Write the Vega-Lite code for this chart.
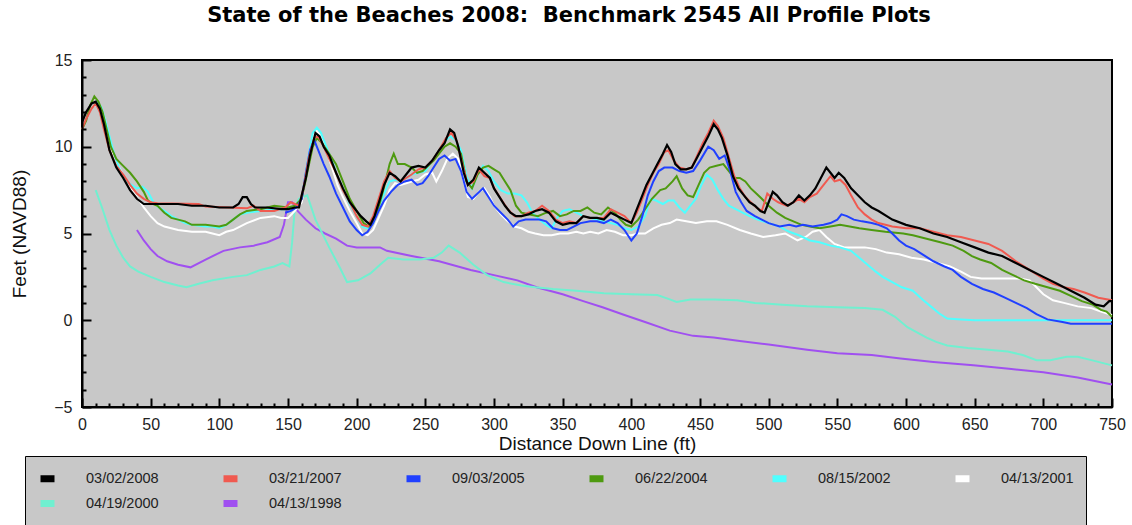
{
"$schema": "https://vega.github.io/schema/vega-lite/v6.json",
"width": 1030, "height": 347,
"autosize": {"type": "none"},
"padding": {"left": 82, "top": 60, "right": 20, "bottom": 118},
"background": "white",
"config": {"view": {"fill": "#c8c8c8", "stroke": "#000", "strokeWidth": 2}, "font": "Liberation Sans"},
"title": {"text": "State of the Beaches 2008: \u00a0Benchmark 2545 All Profile Plots", "fontSize": 21, "fontWeight": "bold", "font": "DejaVu Sans", "color": "#000", "offset": 26, "dx": -28, "anchor": "middle"},
"datasets": {
"p": [{"x":40,"y":5.2},{"x":45,"y":4.6},{"x":50,"y":4.1},{"x":55,"y":3.7},{"x":62,"y":3.4},{"x":70,"y":3.2},{"x":79,"y":3.05},{"x":90,"y":3.5},{"x":103,"y":4.0},{"x":115,"y":4.2},{"x":125,"y":4.3},{"x":135,"y":4.5},{"x":144,"y":4.8},{"x":147,"y":5.5},{"x":150,"y":6.8},{"x":153,"y":6.8},{"x":157,"y":6.3},{"x":163,"y":5.8},{"x":170,"y":5.3},{"x":177,"y":5.0},{"x":185,"y":4.7},{"x":193,"y":4.3},{"x":200,"y":4.2},{"x":217,"y":4.2},{"x":222,"y":4.0},{"x":240,"y":3.7},{"x":260,"y":3.4},{"x":283,"y":2.9},{"x":300,"y":2.6},{"x":317,"y":2.3},{"x":331,"y":1.9},{"x":350,"y":1.5},{"x":365,"y":1.1},{"x":379,"y":0.75},{"x":395,"y":0.3},{"x":410,"y":-0.1},{"x":428,"y":-0.6},{"x":445,"y":-0.9},{"x":460,"y":-1.0},{"x":479,"y":-1.2},{"x":500,"y":-1.4},{"x":528,"y":-1.7},{"x":550,"y":-1.9},{"x":575,"y":-2.0},{"x":596,"y":-2.2},{"x":620,"y":-2.4},{"x":649,"y":-2.6},{"x":675,"y":-2.8},{"x":700,"y":-3.0},{"x":725,"y":-3.3},{"x":750,"y":-3.7}],
"a": [{"x":10,"y":7.5},{"x":15,"y":6.4},{"x":20,"y":5.2},{"x":25,"y":4.3},{"x":30,"y":3.6},{"x":35,"y":3.1},{"x":41,"y":2.8},{"x":50,"y":2.5},{"x":60,"y":2.2},{"x":70,"y":2.0},{"x":76,"y":1.9},{"x":85,"y":2.1},{"x":95,"y":2.3},{"x":110,"y":2.5},{"x":120,"y":2.6},{"x":130,"y":2.9},{"x":140,"y":3.1},{"x":146,"y":3.3},{"x":151,"y":3.1},{"x":153,"y":4.5},{"x":155,"y":6.5},{"x":158,"y":7.0},{"x":164,"y":7.2},{"x":170,"y":5.8},{"x":180,"y":4.2},{"x":188,"y":3.0},{"x":193,"y":2.2},{"x":201,"y":2.3},{"x":210,"y":2.7},{"x":217,"y":3.2},{"x":223,"y":3.6},{"x":234,"y":3.5},{"x":246,"y":3.5},{"x":256,"y":3.6},{"x":262,"y":3.9},{"x":267,"y":4.3},{"x":275,"y":3.9},{"x":285,"y":3.2},{"x":295,"y":2.6},{"x":307,"y":2.2},{"x":320,"y":2.0},{"x":330,"y":1.9},{"x":343,"y":1.8},{"x":360,"y":1.7},{"x":380,"y":1.55},{"x":400,"y":1.5},{"x":419,"y":1.45},{"x":428,"y":1.2},{"x":433,"y":1.05},{"x":443,"y":1.2},{"x":460,"y":1.2},{"x":477,"y":1.15},{"x":490,"y":1.0},{"x":510,"y":0.9},{"x":528,"y":0.8},{"x":550,"y":0.75},{"x":570,"y":0.7},{"x":583,"y":0.6},{"x":592,"y":0.2},{"x":601,"y":-0.4},{"x":608,"y":-0.7},{"x":615,"y":-1.0},{"x":622,"y":-1.25},{"x":630,"y":-1.45},{"x":645,"y":-1.6},{"x":660,"y":-1.7},{"x":674,"y":-1.8},{"x":685,"y":-2.0},{"x":695,"y":-2.3},{"x":705,"y":-2.3},{"x":717,"y":-2.1},{"x":725,"y":-2.1},{"x":735,"y":-2.3},{"x":750,"y":-2.6}],
"w": [{"x":8,"y":12.3},{"x":11,"y":12.5},{"x":14,"y":12.2},{"x":17,"y":11.5},{"x":20,"y":10.4},{"x":23,"y":9.4},{"x":27,"y":8.8},{"x":31,"y":8.2},{"x":35,"y":7.6},{"x":40,"y":7.1},{"x":45,"y":6.5},{"x":50,"y":6.0},{"x":55,"y":5.6},{"x":60,"y":5.4},{"x":70,"y":5.2},{"x":80,"y":5.1},{"x":90,"y":5.1},{"x":95,"y":5.0},{"x":100,"y":4.9},{"x":105,"y":5.1},{"x":110,"y":5.2},{"x":115,"y":5.4},{"x":120,"y":5.6},{"x":130,"y":5.9},{"x":140,"y":6.0},{"x":145,"y":5.9},{"x":150,"y":5.9},{"x":155,"y":6.3},{"x":160,"y":6.8},{"x":164,"y":8.8},{"x":168,"y":10.6},{"x":171,"y":10.9},{"x":174,"y":10.6},{"x":178,"y":9.8},{"x":182,"y":8.8},{"x":186,"y":7.8},{"x":190,"y":7.1},{"x":195,"y":6.3},{"x":200,"y":5.6},{"x":204,"y":5.0},{"x":208,"y":4.9},{"x":212,"y":5.2},{"x":216,"y":5.9},{"x":220,"y":6.6},{"x":224,"y":7.5},{"x":228,"y":7.9},{"x":232,"y":7.8},{"x":236,"y":7.9},{"x":240,"y":8.0},{"x":245,"y":8.1},{"x":250,"y":8.4},{"x":255,"y":8.5},{"x":258,"y":8.0},{"x":262,"y":8.6},{"x":266,"y":9.3},{"x":270,"y":9.6},{"x":274,"y":9.3},{"x":278,"y":8.0},{"x":281,"y":7.1},{"x":285,"y":7.0},{"x":289,"y":7.4},{"x":293,"y":7.6},{"x":297,"y":7.1},{"x":300,"y":6.6},{"x":305,"y":6.1},{"x":310,"y":5.7},{"x":315,"y":5.4},{"x":320,"y":5.3},{"x":325,"y":5.1},{"x":330,"y":5.0},{"x":336,"y":4.9},{"x":342,"y":4.9},{"x":348,"y":5.0},{"x":354,"y":5.0},{"x":360,"y":5.1},{"x":365,"y":5.0},{"x":370,"y":5.1},{"x":376,"y":5.0},{"x":382,"y":5.2},{"x":388,"y":5.1},{"x":394,"y":4.9},{"x":400,"y":4.9},{"x":405,"y":5.0},{"x":410,"y":5.0},{"x":416,"y":5.3},{"x":422,"y":5.5},{"x":428,"y":5.6},{"x":433,"y":5.8},{"x":440,"y":5.7},{"x":447,"y":5.6},{"x":455,"y":5.7},{"x":462,"y":5.7},{"x":470,"y":5.5},{"x":479,"y":5.2},{"x":487,"y":5.0},{"x":496,"y":4.8},{"x":505,"y":4.9},{"x":512,"y":5.0},{"x":521,"y":4.6},{"x":527,"y":4.8},{"x":532,"y":5.1},{"x":537,"y":5.2},{"x":542,"y":4.8},{"x":548,"y":4.4},{"x":555,"y":4.2},{"x":562,"y":4.2},{"x":570,"y":4.2},{"x":578,"y":4.1},{"x":586,"y":3.9},{"x":595,"y":3.8},{"x":604,"y":3.6},{"x":613,"y":3.5},{"x":623,"y":3.3},{"x":632,"y":3.1},{"x":640,"y":2.8},{"x":647,"y":2.5},{"x":655,"y":2.4},{"x":665,"y":2.4},{"x":675,"y":2.4},{"x":683,"y":2.4},{"x":690,"y":2.3},{"x":695,"y":1.9},{"x":700,"y":1.5},{"x":707,"y":1.15},{"x":715,"y":1.0},{"x":725,"y":0.8},{"x":735,"y":0.7},{"x":742,"y":0.5},{"x":750,"y":0.3}],
"c": [{"x":8,"y":12.5},{"x":11,"y":12.6},{"x":14,"y":12.3},{"x":17,"y":11.5},{"x":20,"y":10.6},{"x":24,"y":9.4},{"x":28,"y":8.6},{"x":32,"y":8.0},{"x":36,"y":7.8},{"x":40,"y":7.6},{"x":44,"y":7.7},{"x":48,"y":7.4},{"x":52,"y":6.8},{"x":56,"y":6.5},{"x":60,"y":6.3},{"x":65,"y":6.0},{"x":70,"y":5.8},{"x":75,"y":5.6},{"x":80,"y":5.5},{"x":90,"y":5.4},{"x":95,"y":5.4},{"x":100,"y":5.3},{"x":105,"y":5.5},{"x":110,"y":5.8},{"x":115,"y":6.1},{"x":120,"y":6.2},{"x":130,"y":6.3},{"x":140,"y":6.4},{"x":150,"y":6.4},{"x":155,"y":6.5},{"x":160,"y":7.0},{"x":164,"y":9.0},{"x":168,"y":10.8},{"x":171,"y":11.1},{"x":174,"y":10.8},{"x":178,"y":10.0},{"x":182,"y":9.2},{"x":186,"y":8.3},{"x":190,"y":7.6},{"x":195,"y":6.7},{"x":200,"y":6.0},{"x":204,"y":5.4},{"x":208,"y":5.3},{"x":212,"y":5.6},{"x":216,"y":6.5},{"x":220,"y":7.3},{"x":224,"y":8.0},{"x":228,"y":8.1},{"x":232,"y":8.0},{"x":236,"y":8.2},{"x":240,"y":8.4},{"x":245,"y":8.5},{"x":250,"y":8.6},{"x":255,"y":9.2},{"x":260,"y":9.8},{"x":264,"y":10.3},{"x":268,"y":10.6},{"x":272,"y":10.4},{"x":276,"y":9.8},{"x":280,"y":8.3},{"x":284,"y":7.6},{"x":288,"y":8.4},{"x":292,"y":8.9},{"x":296,"y":8.6},{"x":300,"y":8.0},{"x":305,"y":7.5},{"x":310,"y":7.3},{"x":315,"y":7.3},{"x":320,"y":7.2},{"x":324,"y":6.8},{"x":328,"y":6.2},{"x":333,"y":5.8},{"x":338,"y":5.5},{"x":342,"y":5.3},{"x":346,"y":5.9},{"x":350,"y":6.3},{"x":355,"y":6.4},{"x":360,"y":6.2},{"x":365,"y":6.0},{"x":370,"y":5.9},{"x":375,"y":5.8},{"x":380,"y":5.7},{"x":385,"y":5.6},{"x":390,"y":5.5},{"x":395,"y":5.3},{"x":400,"y":5.2},{"x":405,"y":5.4},{"x":410,"y":6.0},{"x":414,"y":7.0},{"x":418,"y":6.9},{"x":423,"y":6.7},{"x":427,"y":6.9},{"x":431,"y":6.9},{"x":435,"y":6.5},{"x":439,"y":6.2},{"x":443,"y":6.6},{"x":447,"y":7.0},{"x":451,"y":7.8},{"x":455,"y":8.4},{"x":459,"y":8.1},{"x":463,"y":7.5},{"x":467,"y":7.0},{"x":471,"y":6.6},{"x":476,"y":6.4},{"x":481,"y":6.2},{"x":486,"y":6.0},{"x":492,"y":5.8},{"x":500,"y":5.6},{"x":508,"y":5.4},{"x":515,"y":5.1},{"x":522,"y":4.9},{"x":530,"y":4.6},{"x":537,"y":4.5},{"x":545,"y":4.3},{"x":552,"y":4.2},{"x":560,"y":4.0},{"x":566,"y":3.6},{"x":572,"y":3.2},{"x":578,"y":2.8},{"x":583,"y":2.5},{"x":590,"y":2.2},{"x":597,"y":1.9},{"x":605,"y":1.7},{"x":612,"y":1.2},{"x":618,"y":0.8},{"x":624,"y":0.4},{"x":630,"y":0.1},{"x":640,"y":0.05},{"x":650,"y":0.0},{"x":750,"y":0.0}],
"g": [{"x":0,"y":11.0},{"x":3,"y":11.5},{"x":6,"y":12.4},{"x":9,"y":12.9},{"x":12,"y":12.6},{"x":15,"y":12.0},{"x":18,"y":11.0},{"x":21,"y":10.0},{"x":25,"y":9.3},{"x":30,"y":8.9},{"x":35,"y":8.5},{"x":40,"y":8.0},{"x":45,"y":7.4},{"x":48,"y":6.9},{"x":52,"y":6.7},{"x":55,"y":6.6},{"x":60,"y":6.2},{"x":65,"y":5.9},{"x":70,"y":5.8},{"x":75,"y":5.7},{"x":80,"y":5.5},{"x":90,"y":5.5},{"x":100,"y":5.4},{"x":105,"y":5.5},{"x":110,"y":5.8},{"x":115,"y":6.1},{"x":120,"y":6.3},{"x":130,"y":6.4},{"x":140,"y":6.6},{"x":150,"y":6.5},{"x":155,"y":6.6},{"x":160,"y":7.0},{"x":164,"y":8.5},{"x":168,"y":10.0},{"x":171,"y":10.5},{"x":175,"y":10.2},{"x":180,"y":9.6},{"x":185,"y":9.0},{"x":190,"y":8.0},{"x":195,"y":7.0},{"x":200,"y":6.3},{"x":205,"y":5.6},{"x":209,"y":5.4},{"x":213,"y":5.8},{"x":217,"y":6.8},{"x":221,"y":8.0},{"x":224,"y":9.0},{"x":227,"y":9.6},{"x":230,"y":9.0},{"x":235,"y":9.0},{"x":240,"y":8.8},{"x":244,"y":8.5},{"x":248,"y":8.6},{"x":252,"y":8.9},{"x":256,"y":9.2},{"x":260,"y":9.6},{"x":264,"y":10.0},{"x":268,"y":10.2},{"x":272,"y":10.0},{"x":276,"y":9.6},{"x":280,"y":8.0},{"x":284,"y":7.6},{"x":288,"y":8.4},{"x":292,"y":8.8},{"x":296,"y":8.9},{"x":300,"y":8.7},{"x":304,"y":8.5},{"x":308,"y":8.0},{"x":312,"y":7.5},{"x":316,"y":6.6},{"x":320,"y":6.2},{"x":326,"y":6.1},{"x":332,"y":6.0},{"x":338,"y":6.2},{"x":343,"y":6.3},{"x":348,"y":6.0},{"x":353,"y":6.1},{"x":358,"y":6.3},{"x":363,"y":6.3},{"x":368,"y":6.5},{"x":373,"y":6.2},{"x":378,"y":6.1},{"x":383,"y":6.5},{"x":388,"y":6.2},{"x":392,"y":5.8},{"x":396,"y":5.5},{"x":400,"y":5.4},{"x":405,"y":5.8},{"x":410,"y":6.4},{"x":415,"y":7.0},{"x":421,"y":7.5},{"x":425,"y":7.6},{"x":430,"y":8.0},{"x":433,"y":8.3},{"x":437,"y":7.6},{"x":441,"y":7.2},{"x":445,"y":7.1},{"x":449,"y":7.8},{"x":453,"y":8.5},{"x":457,"y":8.8},{"x":462,"y":8.9},{"x":467,"y":9.0},{"x":471,"y":8.6},{"x":475,"y":8.2},{"x":479,"y":8.2},{"x":483,"y":8.0},{"x":487,"y":7.6},{"x":491,"y":7.3},{"x":495,"y":7.0},{"x":500,"y":6.6},{"x":506,"y":6.2},{"x":512,"y":5.9},{"x":518,"y":5.7},{"x":524,"y":5.5},{"x":530,"y":5.4},{"x":537,"y":5.3},{"x":545,"y":5.4},{"x":552,"y":5.5},{"x":559,"y":5.4},{"x":566,"y":5.3},{"x":575,"y":5.2},{"x":585,"y":5.1},{"x":598,"y":5.0},{"x":605,"y":4.9},{"x":615,"y":4.7},{"x":625,"y":4.5},{"x":634,"y":4.3},{"x":642,"y":4.0},{"x":648,"y":3.7},{"x":654,"y":3.5},{"x":662,"y":3.3},{"x":670,"y":2.9},{"x":678,"y":2.6},{"x":686,"y":2.3},{"x":694,"y":2.1},{"x":703,"y":1.9},{"x":712,"y":1.7},{"x":720,"y":1.4},{"x":728,"y":1.1},{"x":736,"y":0.9},{"x":742,"y":0.6},{"x":746,"y":0.5},{"x":750,"y":0.2}],
"bl": [{"x":148,"y":6.2},{"x":152,"y":6.3},{"x":156,"y":6.5},{"x":160,"y":7.0},{"x":163,"y":8.5},{"x":166,"y":9.8},{"x":169,"y":10.4},{"x":172,"y":9.8},{"x":176,"y":9.0},{"x":180,"y":8.3},{"x":185,"y":7.3},{"x":190,"y":6.5},{"x":195,"y":5.7},{"x":200,"y":5.2},{"x":204,"y":4.9},{"x":208,"y":5.1},{"x":212,"y":5.6},{"x":216,"y":6.3},{"x":220,"y":6.9},{"x":225,"y":7.4},{"x":230,"y":7.8},{"x":235,"y":8.0},{"x":240,"y":8.1},{"x":244,"y":7.8},{"x":248,"y":7.9},{"x":252,"y":8.3},{"x":256,"y":8.8},{"x":260,"y":9.3},{"x":264,"y":9.5},{"x":268,"y":9.2},{"x":272,"y":9.3},{"x":276,"y":8.6},{"x":280,"y":7.4},{"x":284,"y":7.0},{"x":288,"y":7.3},{"x":292,"y":7.6},{"x":296,"y":7.1},{"x":300,"y":6.6},{"x":305,"y":6.2},{"x":310,"y":5.8},{"x":314,"y":5.4},{"x":318,"y":5.7},{"x":323,"y":5.8},{"x":328,"y":5.8},{"x":333,"y":5.8},{"x":338,"y":5.7},{"x":343,"y":5.3},{"x":348,"y":5.2},{"x":353,"y":5.2},{"x":358,"y":5.4},{"x":363,"y":5.6},{"x":370,"y":5.7},{"x":375,"y":5.7},{"x":380,"y":5.6},{"x":385,"y":5.8},{"x":390,"y":5.6},{"x":395,"y":5.2},{"x":400,"y":4.6},{"x":404,"y":5.0},{"x":408,"y":6.0},{"x":412,"y":7.2},{"x":416,"y":8.0},{"x":420,"y":8.6},{"x":424,"y":8.8},{"x":430,"y":8.8},{"x":435,"y":8.6},{"x":440,"y":8.5},{"x":445,"y":8.6},{"x":450,"y":9.2},{"x":456,"y":10.0},{"x":460,"y":9.8},{"x":464,"y":9.3},{"x":468,"y":9.5},{"x":472,"y":8.6},{"x":476,"y":7.4},{"x":480,"y":6.8},{"x":484,"y":6.3},{"x":490,"y":6.0},{"x":495,"y":5.8},{"x":500,"y":5.6},{"x":508,"y":5.4},{"x":515,"y":5.5},{"x":520,"y":5.4},{"x":525,"y":5.5},{"x":532,"y":5.4},{"x":540,"y":5.5},{"x":545,"y":5.6},{"x":550,"y":5.8},{"x":553,"y":6.1},{"x":557,"y":6.0},{"x":562,"y":5.8},{"x":568,"y":5.7},{"x":575,"y":5.6},{"x":580,"y":5.5},{"x":586,"y":5.3},{"x":590,"y":5.0},{"x":595,"y":4.6},{"x":600,"y":4.3},{"x":606,"y":4.1},{"x":612,"y":3.8},{"x":620,"y":3.4},{"x":628,"y":3.1},{"x":634,"y":2.9},{"x":640,"y":2.5},{"x":648,"y":2.1},{"x":656,"y":1.8},{"x":664,"y":1.6},{"x":672,"y":1.3},{"x":680,"y":1.0},{"x":688,"y":0.7},{"x":695,"y":0.35},{"x":703,"y":0.05},{"x":714,"y":-0.1},{"x":720,"y":-0.2},{"x":750,"y":-0.2}],
"r": [{"x":0,"y":11.0},{"x":3,"y":11.6},{"x":7,"y":12.2},{"x":10,"y":12.5},{"x":13,"y":12.0},{"x":16,"y":11.0},{"x":20,"y":9.8},{"x":25,"y":8.9},{"x":30,"y":8.4},{"x":35,"y":7.8},{"x":40,"y":7.3},{"x":45,"y":7.0},{"x":50,"y":6.8},{"x":55,"y":6.75},{"x":85,"y":6.7},{"x":90,"y":6.55},{"x":120,"y":6.45},{"x":125,"y":6.6},{"x":130,"y":6.3},{"x":140,"y":6.3},{"x":148,"y":6.5},{"x":152,"y":6.8},{"x":155,"y":6.7},{"x":158,"y":6.6},{"x":161,"y":7.5},{"x":165,"y":9.3},{"x":169,"y":10.5},{"x":172,"y":10.6},{"x":176,"y":10.0},{"x":180,"y":9.3},{"x":185,"y":8.5},{"x":190,"y":7.5},{"x":195,"y":6.8},{"x":200,"y":6.0},{"x":204,"y":5.5},{"x":208,"y":5.4},{"x":212,"y":6.0},{"x":216,"y":7.0},{"x":220,"y":8.0},{"x":224,"y":8.6},{"x":228,"y":8.2},{"x":232,"y":8.0},{"x":236,"y":8.2},{"x":240,"y":8.4},{"x":245,"y":8.7},{"x":250,"y":8.8},{"x":255,"y":9.2},{"x":260,"y":9.8},{"x":265,"y":10.5},{"x":269,"y":10.8},{"x":273,"y":10.3},{"x":277,"y":9.0},{"x":281,"y":7.8},{"x":285,"y":8.0},{"x":289,"y":8.7},{"x":293,"y":8.3},{"x":297,"y":8.2},{"x":300,"y":7.6},{"x":305,"y":7.0},{"x":310,"y":6.4},{"x":315,"y":6.0},{"x":320,"y":6.0},{"x":325,"y":6.2},{"x":330,"y":6.3},{"x":335,"y":6.6},{"x":340,"y":6.3},{"x":345,"y":5.8},{"x":350,"y":5.6},{"x":355,"y":5.7},{"x":360,"y":5.6},{"x":365,"y":6.0},{"x":370,"y":5.9},{"x":380,"y":5.9},{"x":385,"y":6.4},{"x":390,"y":6.2},{"x":395,"y":6.0},{"x":400,"y":5.6},{"x":404,"y":6.2},{"x":408,"y":7.0},{"x":412,"y":7.8},{"x":416,"y":8.5},{"x":420,"y":9.0},{"x":424,"y":9.7},{"x":427,"y":9.8},{"x":431,"y":9.2},{"x":435,"y":8.8},{"x":440,"y":8.7},{"x":444,"y":8.8},{"x":448,"y":9.5},{"x":452,"y":10.2},{"x":456,"y":10.8},{"x":460,"y":11.5},{"x":463,"y":11.2},{"x":467,"y":10.5},{"x":471,"y":9.4},{"x":475,"y":8.3},{"x":479,"y":7.6},{"x":483,"y":7.1},{"x":487,"y":6.8},{"x":491,"y":6.5},{"x":495,"y":6.3},{"x":499,"y":7.3},{"x":503,"y":7.0},{"x":507,"y":6.8},{"x":513,"y":6.6},{"x":518,"y":6.8},{"x":522,"y":7.0},{"x":526,"y":6.8},{"x":530,"y":7.1},{"x":535,"y":7.3},{"x":540,"y":7.8},{"x":545,"y":8.3},{"x":548,"y":8.0},{"x":552,"y":8.1},{"x":556,"y":7.8},{"x":560,"y":7.2},{"x":565,"y":6.5},{"x":570,"y":6.1},{"x":575,"y":5.8},{"x":580,"y":5.6},{"x":590,"y":5.4},{"x":600,"y":5.3},{"x":610,"y":5.3},{"x":620,"y":5.1},{"x":630,"y":4.9},{"x":640,"y":4.8},{"x":650,"y":4.6},{"x":660,"y":4.4},{"x":670,"y":4.0},{"x":680,"y":3.4},{"x":690,"y":2.9},{"x":700,"y":2.4},{"x":707,"y":2.1},{"x":715,"y":1.9},{"x":722,"y":1.8},{"x":730,"y":1.6},{"x":740,"y":1.3},{"x":750,"y":1.15}],
"b": [{"x":0,"y":11.4},{"x":3,"y":12.0},{"x":7,"y":12.5},{"x":10,"y":12.6},{"x":13,"y":12.2},{"x":16,"y":11.3},{"x":20,"y":9.8},{"x":25,"y":8.8},{"x":30,"y":8.2},{"x":35,"y":7.5},{"x":40,"y":7.0},{"x":45,"y":6.7},{"x":50,"y":6.7},{"x":55,"y":6.7},{"x":70,"y":6.7},{"x":80,"y":6.6},{"x":90,"y":6.6},{"x":100,"y":6.5},{"x":110,"y":6.5},{"x":114,"y":6.7},{"x":117,"y":7.1},{"x":120,"y":7.1},{"x":123,"y":6.7},{"x":126,"y":6.5},{"x":135,"y":6.5},{"x":145,"y":6.4},{"x":150,"y":6.4},{"x":155,"y":6.5},{"x":158,"y":6.5},{"x":160,"y":7.2},{"x":163,"y":8.2},{"x":166,"y":9.5},{"x":170,"y":10.8},{"x":173,"y":10.6},{"x":176,"y":10.0},{"x":180,"y":9.5},{"x":185,"y":8.5},{"x":190,"y":7.6},{"x":195,"y":6.8},{"x":200,"y":6.3},{"x":203,"y":6.0},{"x":207,"y":5.7},{"x":210,"y":5.5},{"x":213,"y":6.0},{"x":217,"y":7.0},{"x":220,"y":7.8},{"x":224,"y":8.5},{"x":228,"y":8.3},{"x":232,"y":8.0},{"x":236,"y":8.4},{"x":240,"y":8.8},{"x":245,"y":8.9},{"x":250,"y":8.8},{"x":255,"y":9.2},{"x":260,"y":9.8},{"x":264,"y":10.2},{"x":268,"y":11.0},{"x":271,"y":10.8},{"x":274,"y":10.0},{"x":278,"y":8.5},{"x":281,"y":7.8},{"x":285,"y":8.1},{"x":289,"y":8.8},{"x":293,"y":8.5},{"x":297,"y":8.2},{"x":300,"y":7.6},{"x":304,"y":7.1},{"x":308,"y":6.6},{"x":312,"y":6.2},{"x":316,"y":6.0},{"x":320,"y":6.0},{"x":325,"y":6.1},{"x":330,"y":6.3},{"x":335,"y":6.4},{"x":340,"y":6.2},{"x":345,"y":5.7},{"x":350,"y":5.5},{"x":355,"y":5.6},{"x":360,"y":5.6},{"x":365,"y":6.0},{"x":370,"y":5.9},{"x":375,"y":5.9},{"x":380,"y":5.8},{"x":385,"y":6.2},{"x":390,"y":6.0},{"x":395,"y":5.8},{"x":400,"y":5.6},{"x":403,"y":6.2},{"x":407,"y":7.0},{"x":411,"y":7.8},{"x":415,"y":8.4},{"x":419,"y":9.0},{"x":423,"y":9.6},{"x":426,"y":10.1},{"x":429,"y":9.7},{"x":432,"y":9.0},{"x":436,"y":8.7},{"x":440,"y":8.7},{"x":444,"y":8.8},{"x":448,"y":9.4},{"x":452,"y":10.0},{"x":456,"y":10.6},{"x":460,"y":11.3},{"x":463,"y":11.0},{"x":466,"y":10.5},{"x":470,"y":9.5},{"x":474,"y":8.3},{"x":478,"y":7.6},{"x":482,"y":7.2},{"x":486,"y":6.8},{"x":490,"y":6.6},{"x":494,"y":6.3},{"x":497,"y":6.2},{"x":500,"y":6.8},{"x":503,"y":7.4},{"x":506,"y":7.2},{"x":510,"y":6.8},{"x":514,"y":6.6},{"x":518,"y":6.8},{"x":522,"y":7.2},{"x":526,"y":6.9},{"x":530,"y":7.2},{"x":534,"y":7.6},{"x":538,"y":8.2},{"x":542,"y":8.8},{"x":545,"y":8.5},{"x":548,"y":8.2},{"x":551,"y":8.5},{"x":555,"y":8.2},{"x":560,"y":7.6},{"x":565,"y":7.2},{"x":570,"y":6.8},{"x":575,"y":6.5},{"x":580,"y":6.3},{"x":590,"y":5.8},{"x":600,"y":5.5},{"x":610,"y":5.3},{"x":620,"y":5.0},{"x":630,"y":4.8},{"x":640,"y":4.5},{"x":650,"y":4.2},{"x":660,"y":3.9},{"x":670,"y":3.7},{"x":680,"y":3.3},{"x":690,"y":2.9},{"x":700,"y":2.5},{"x":710,"y":2.1},{"x":720,"y":1.7},{"x":730,"y":1.3},{"x":738,"y":0.9},{"x":744,"y":0.8},{"x":748,"y":1.1},{"x":750,"y":1.1}]
},
"encoding": {
"x": {"field": "x", "type": "quantitative", "title": "Distance Down Line (ft)",
 "scale": {"domain": [0, 750], "nice": false, "zero": false},
 "axis": {"values": [0,10,20,30,40,50,60,70,80,90,100,110,120,130,140,150,160,170,180,190,200,210,220,230,240,250,260,270,280,290,300,310,320,330,340,350,360,370,380,390,400,410,420,430,440,450,460,470,480,490,500,510,520,530,540,550,560,570,580,590,600,610,620,630,640,650,660,670,680,690,700,710,720,730,740,750],
  "labelExpr": "datum.value % 50 === 0 ? datum.label : ''", "labelOverlap": false, "labelFlush": false,
  "grid": false, "ticks": true, "zindex": 1, "domainColor": "#000", "domainWidth": 2, "tickColor": "#000", "tickWidth": 2,
  "tickSize": -9, "tickDash": {"condition": {"test": "datum.value % 50 === 0", "value": [12, 2]}, "value": [4, 20]},
  "labelPadding": 18, "labelFontSize": 16, "labelColor": "#222", "labelFont": "Liberation Sans",
  "titleFontSize": 19, "titleFontWeight": "normal", "titleColor": "#111", "titleFont": "Liberation Sans", "titlePadding": 2}},
"y": {"field": "y", "type": "quantitative", "title": "Feet (NAVD88)",
 "scale": {"domain": [-5, 15], "nice": false, "zero": false},
 "axis": {"values": [-5,-4,-3,-2,-1,0,1,2,3,4,5,6,7,8,9,10,11,12,13,14,15],
  "labelExpr": "datum.value % 5 === 0 ? datum.label : ''", "labelOverlap": false, "labelFlush": false,
  "grid": false, "ticks": true, "zindex": 1, "domainColor": "#000", "domainWidth": 2, "tickColor": "#000", "tickWidth": 2,
  "tickSize": -9, "tickDash": {"condition": {"test": "datum.value % 5 === 0", "value": [12, 2]}, "value": [4, 20]},
  "labelPadding": 19, "labelFontSize": 16, "labelColor": "#222", "labelFont": "Liberation Sans",
  "titleFontSize": 19, "titleFontWeight": "normal", "titleColor": "#111", "titleFont": "Liberation Sans", "titlePadding": 24}}
},
"layer": [
{"data": {"name": "p"}, "mark": {"type": "line", "strokeWidth": 2},
 "encoding": {"color": {"datum": "04/13/1998", "type": "nominal",
  "scale": {"domain": ["03/02/2008","03/21/2007","09/03/2005","06/22/2004","08/15/2002","04/13/2001","04/19/2000","04/13/1998"],
            "range": ["#000000","#f05a50","#2040ff","#4e9a10","#50ffff","#ffffff","#70f0d0","#a050f0"]},
  "legend": {"orient": "none", "legendX": -57, "legendY": 396, "direction": "horizontal", "columns": 6, "title": null,
   "symbolType": "stroke", "symbolStrokeWidth": 7, "symbolSize": 196, "labelFontSize": 14.5, "labelFont": "Liberation Sans", "labelColor": "#222",
   "fillColor": "#c8c8c8", "strokeColor": "#000", "padding": 12, "columnPadding": 50, "rowPadding": -4, "labelOffset": 28, "gridAlign": "all"}}}},
{"data": {"name": "a"}, "mark": {"type": "line", "strokeWidth": 2}, "encoding": {"color": {"datum": "04/19/2000", "type": "nominal"}}},
{"data": {"name": "w"}, "mark": {"type": "line", "strokeWidth": 2}, "encoding": {"color": {"datum": "04/13/2001", "type": "nominal"}}},
{"data": {"name": "c"}, "mark": {"type": "line", "strokeWidth": 2}, "encoding": {"color": {"datum": "08/15/2002", "type": "nominal"}}},
{"data": {"name": "g"}, "mark": {"type": "line", "strokeWidth": 2}, "encoding": {"color": {"datum": "06/22/2004", "type": "nominal"}}},
{"data": {"name": "bl"}, "mark": {"type": "line", "strokeWidth": 2}, "encoding": {"color": {"datum": "09/03/2005", "type": "nominal"}}},
{"data": {"name": "r"}, "mark": {"type": "line", "strokeWidth": 2}, "encoding": {"color": {"datum": "03/21/2007", "type": "nominal"}}},
{"data": {"name": "b"}, "mark": {"type": "line", "strokeWidth": 2.2}, "encoding": {"color": {"datum": "03/02/2008", "type": "nominal"}}}
]
}
